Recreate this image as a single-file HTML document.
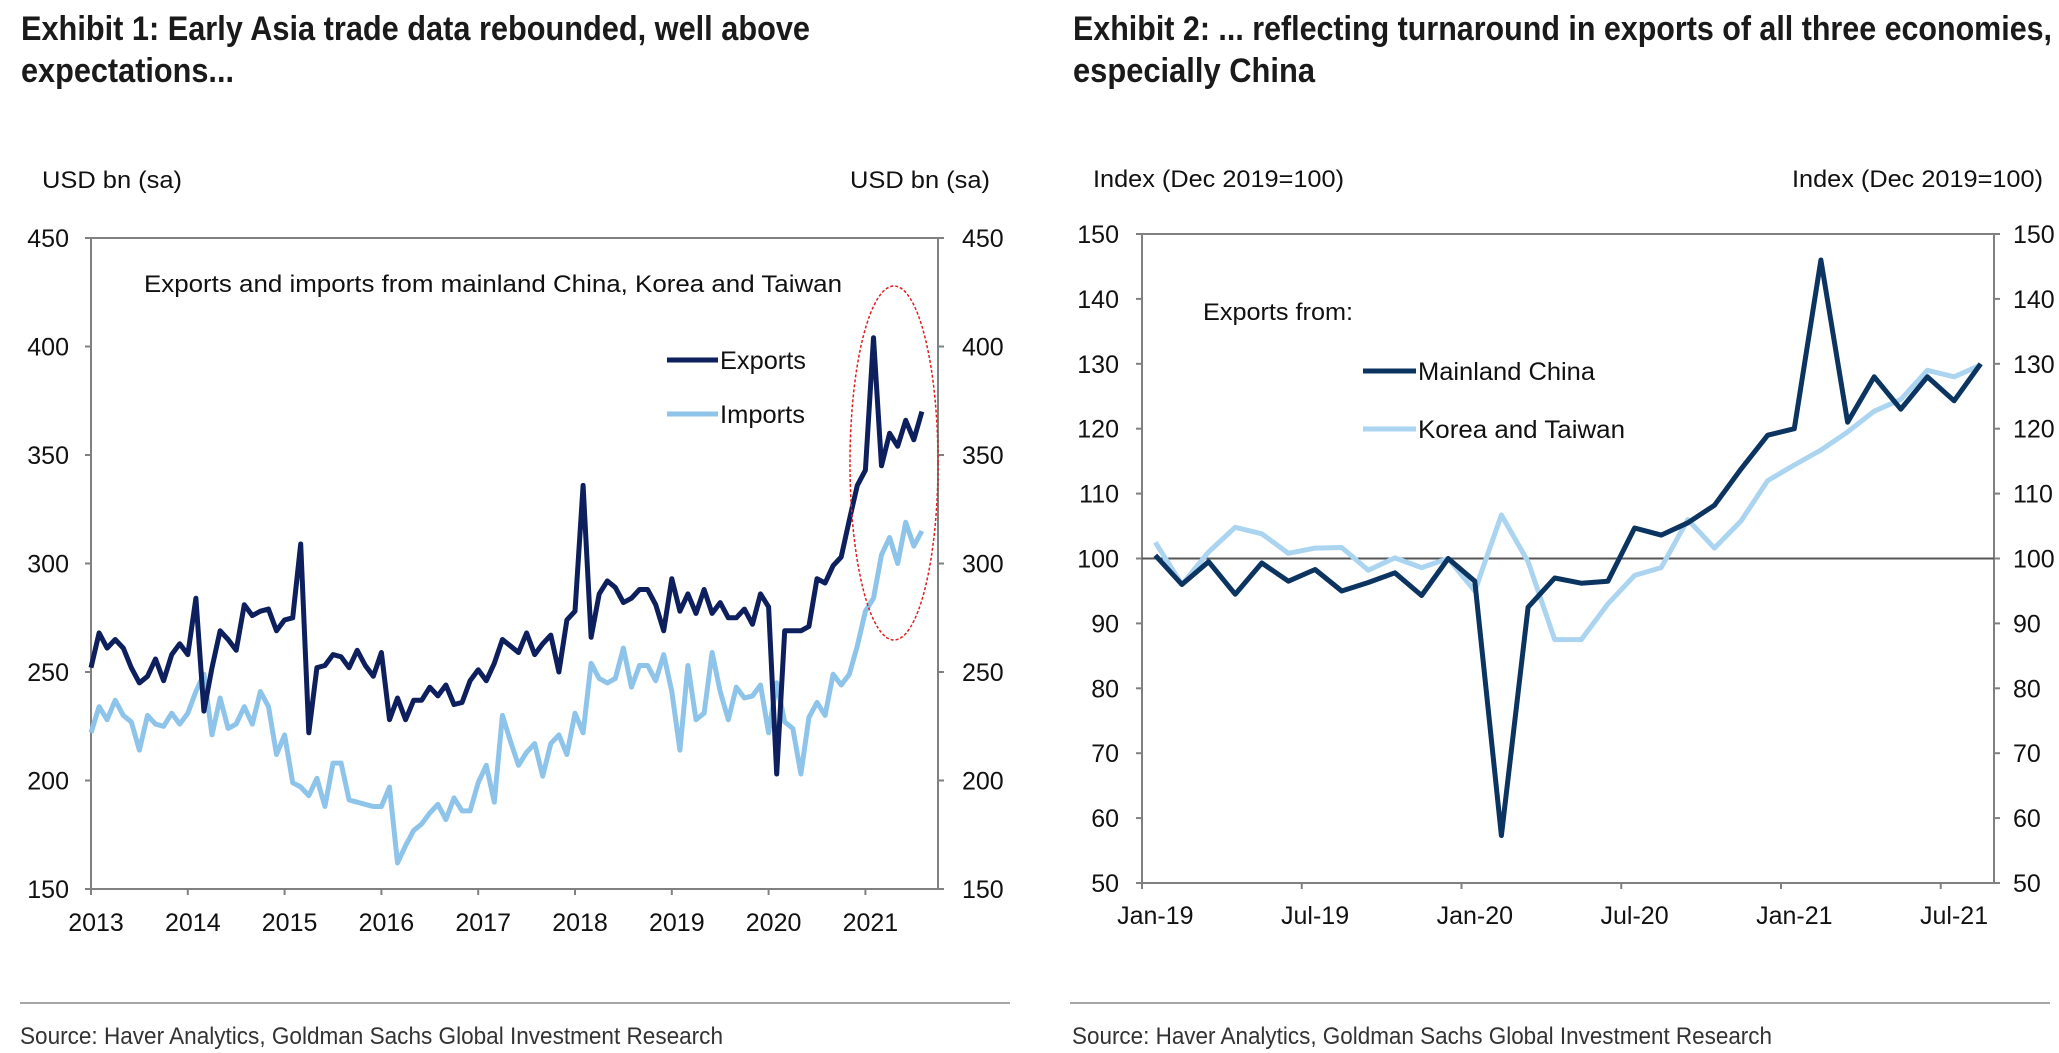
<!DOCTYPE html>
<html><head><meta charset="utf-8"><style>
html,body{margin:0;padding:0;background:#fff;}
svg{display:block;font-family:"Liberation Sans",Arial,sans-serif;}
</style></head><body>
<svg id="root" width="2059" height="1053" viewBox="0 0 2059 1053">
<g font-weight="bold" font-size="34" fill="#1a1a1a">
<text x="21" y="40" textLength="789" lengthAdjust="spacingAndGlyphs">Exhibit 1: Early Asia trade data rebounded, well above</text>
<text x="21" y="82" textLength="213" lengthAdjust="spacingAndGlyphs">expectations...</text>
<text x="1073" y="40" textLength="979" lengthAdjust="spacingAndGlyphs">Exhibit 2: ... reflecting turnaround in exports of all three economies,</text>
<text x="1073" y="82" textLength="242" lengthAdjust="spacingAndGlyphs">especially China</text>
</g>
<g>
<line x1="20" y1="1003" x2="1010" y2="1003" stroke="#a6a6a6" stroke-width="2"/>
<line x1="1070" y1="1003" x2="2050" y2="1003" stroke="#a6a6a6" stroke-width="2"/>
<text x="20" y="1044" font-size="24" fill="#333" textLength="703" lengthAdjust="spacingAndGlyphs">Source: Haver Analytics, Goldman Sachs Global Investment Research</text>
<text x="1072" y="1044" font-size="24" fill="#333" textLength="700" lengthAdjust="spacingAndGlyphs">Source: Haver Analytics, Goldman Sachs Global Investment Research</text>
</g>
<g id="c1"></g>
<g id="c2"></g>
</svg>
<script>
// ---- Exhibit 1 data (monthly, Jan 2013 - Aug 2021) ----
const years1 = ["2013","2014","2015","2016","2017","2018","2019","2020","2021"];
const yTicks1 = [150,200,250,300,350,400,450];
const exports1 = [252,268,261,265,261,252,245,248,256,246,258,263,
258,284,232,252,269,265,260,281,276,278,279,269,
274,275,309,222,252,253,258,257,252,260,253,248,
259,228,238,228,237,237,243,239,244,235,236,246,
251,246,254,265,262,259,268,258,263,267,250,274,
278,336,266,286,292,289,282,284,288,288,281,269,
293,278,286,277,288,277,282,275,275,279,272,286,
280,203,269,269,269,271,293,291,299,303,320,336,
343,404,345,360,354,366,357,370];
const imports1 = [222,234,228,237,230,227,214,230,226,225,231,226,
231,241,249,221,238,224,226,234,226,241,234,212,
221,199,197,193,201,188,208,208,191,190,189,188,
188,197,162,170,177,180,185,189,182,192,186,186,
199,207,190,230,218,207,213,217,202,217,221,212,
231,222,254,247,245,247,261,243,253,253,246,258,
241,214,253,228,231,259,241,228,243,238,239,244,
222,245,227,224,203,229,236,230,249,244,249,262,
278,284,304,312,300,319,308,315];
// ---- Exhibit 2 data (monthly, Jan-19 - Aug-21) ----
const xLabels2 = ["Jan-19","Jul-19","Jan-20","Jul-20","Jan-21","Jul-21"];
const yTicks2 = [50,60,70,80,90,100,110,120,130,140,150];
const china2 = [100.5,96,99.5,94.5,99.3,96.5,98.3,95,96.3,97.8,94.3,100,96.5,57.3,92.5,97,96.2,96.5,104.7,103.6,105.5,108.2,113.8,119,120,146,121,128,123,128,124.3,130];
const korea2 = [102.5,96,101,104.8,103.8,100.8,101.6,101.7,98.2,100.1,98.6,100,95,106.7,99.5,87.5,87.5,93,97.4,98.6,106,101.6,105.8,112,114.4,116.7,119.5,122.7,124.5,129,128,129.8];

const NS="http://www.w3.org/2000/svg";
function mk(parent,tag,attrs,txt){const e=document.createElementNS(NS,tag);for(const k in attrs)e.setAttribute(k,attrs[k]);if(txt!==undefined)e.textContent=txt;parent.appendChild(e);return e;}

// ===== Chart 1 =====
(function(){
const g=document.getElementById('c1');
const L=91,R=938,T=238,B=889,nM=105;
const x=m=>L+m/nM*(R-L);
const y=v=>B-(v-150)/300*(B-T);
let e;
e=mk(g,'rect',{x:L,y:T,width:R-L,height:B-T,fill:'none',stroke:'#808080','stroke-width':2});


yTicks1.forEach(v=>{
 e=mk(g,'line',{x1:L-6,x2:L,y1:y(v),y2:y(v),stroke:'#808080','stroke-width':2});
 
 
 e=mk(g,'line',{x1:R,x2:R+6,y1:y(v),y2:y(v),stroke:'#808080','stroke-width':2});
 
 
 e=mk(g,'text',{x:69,y:y(v)+9,'font-size':25,'text-anchor':'end',fill:'#111'},String(v));
 
 
 e=mk(g,'text',{x:962,y:y(v)+9,'font-size':25,fill:'#111'},String(v));
 
 
});
years1.forEach((yr,i)=>{
 const xx=x(i*12);
 e=mk(g,'line',{x1:xx,x2:xx,y1:B,y2:B+6,stroke:'#808080','stroke-width':2});
 
 
 e=mk(g,'text',{x:xx+5,y:931,'font-size':25,'text-anchor':'middle',fill:'#111'},yr);
 
 
});
e=mk(g,'text',{x:42,y:188,'font-size':24,fill:'#111',textLength:140,lengthAdjust:'spacingAndGlyphs'},'USD bn (sa)');


e=mk(g,'text',{x:850,y:188,'font-size':24,fill:'#111',textLength:140,lengthAdjust:'spacingAndGlyphs'},'USD bn (sa)');


e=mk(g,'text',{x:144,y:292,'font-size':24,fill:'#111',textLength:698,lengthAdjust:'spacingAndGlyphs'},'Exports and imports from mainland  China, Korea and Taiwan');


const pts=a=>a.map((v,i)=>x(i).toFixed(1)+','+y(v).toFixed(1)).join(' ');
e=mk(g,'polyline',{points:pts(imports1),fill:'none',stroke:'#8ec4ea','stroke-width':5,'stroke-linejoin':'round'});


e=mk(g,'polyline',{points:pts(exports1),fill:'none',stroke:'#0d1f5c','stroke-width':5,'stroke-linejoin':'round'});


e=mk(g,'ellipse',{cx:894,cy:463,rx:44,ry:177,fill:'none',stroke:'#e02020','stroke-width':1.5,'stroke-dasharray':'3,2'});


e=mk(g,'line',{x1:667,x2:718,y1:360,y2:360,stroke:'#0d1f5c','stroke-width':5});


e=mk(g,'text',{x:720,y:369,'font-size':25,fill:'#111',textLength:86,lengthAdjust:'spacingAndGlyphs'},'Exports');


e=mk(g,'line',{x1:667,x2:718,y1:414,y2:414,stroke:'#8ec4ea','stroke-width':5});


e=mk(g,'text',{x:720,y:423,'font-size':25,fill:'#111',textLength:85,lengthAdjust:'spacingAndGlyphs'},'Imports');


})();

// ===== Chart 2 =====
(function(){
const g=document.getElementById('c2');
const L=1142,R=1994,T=234,B=883,nM=32;
const x=m=>L+m/nM*(R-L);
const y=v=>B-(v-50)/100*(B-T);
let e;
e=mk(g,'line',{x1:L,x2:R,y1:T,y2:T,stroke:'#808080','stroke-width':2});


e=mk(g,'line',{x1:L,x2:R,y1:B,y2:B,stroke:'#808080','stroke-width':2});


e=mk(g,'line',{x1:L,x2:L,y1:T,y2:B,stroke:'#808080','stroke-width':2});


e=mk(g,'line',{x1:R,x2:R,y1:T,y2:B,stroke:'#808080','stroke-width':2});


e=mk(g,'line',{x1:L,x2:R,y1:y(100),y2:y(100),stroke:'#555','stroke-width':2});


yTicks2.forEach(v=>{
 e=mk(g,'line',{x1:L-6,x2:L,y1:y(v),y2:y(v),stroke:'#808080','stroke-width':2});
 
 
 e=mk(g,'line',{x1:R,x2:R+6,y1:y(v),y2:y(v),stroke:'#808080','stroke-width':2});
 
 
 e=mk(g,'text',{x:1119,y:y(v)+9,'font-size':25,'text-anchor':'end',fill:'#111'},String(v));
 
 
 e=mk(g,'text',{x:2013,y:y(v)+9,'font-size':25,fill:'#111'},String(v));
 
 
});
xLabels2.forEach((lab,i)=>{
 const xx=x(i*6);
 e=mk(g,'line',{x1:xx,x2:xx,y1:B,y2:B+6,stroke:'#808080','stroke-width':2});
 
 
 e=mk(g,'text',{x:x(i*6+0.5),y:924,'font-size':25,'text-anchor':'middle',fill:'#111'},lab);
 
 
});
e=mk(g,'text',{x:1093,y:187,'font-size':24,fill:'#111',textLength:251,lengthAdjust:'spacingAndGlyphs'},'Index (Dec 2019=100)');


e=mk(g,'text',{x:1792,y:187,'font-size':24,fill:'#111',textLength:251,lengthAdjust:'spacingAndGlyphs'},'Index (Dec 2019=100)');


const pts=a=>a.map((v,i)=>x(i+0.5).toFixed(1)+','+y(v).toFixed(1)).join(' ');
e=mk(g,'polyline',{points:pts(korea2),fill:'none',stroke:'#aad4f0','stroke-width':5,'stroke-linejoin':'round'});


e=mk(g,'polyline',{points:pts(china2),fill:'none',stroke:'#0b3560','stroke-width':5,'stroke-linejoin':'round'});


e=mk(g,'text',{x:1203,y:320,'font-size':24,fill:'#111',textLength:150,lengthAdjust:'spacingAndGlyphs'},'Exports from:');


e=mk(g,'line',{x1:1363,x2:1416,y1:371,y2:371,stroke:'#0b3560','stroke-width':5});


e=mk(g,'text',{x:1418,y:380,'font-size':25,fill:'#111',textLength:177,lengthAdjust:'spacingAndGlyphs'},'Mainland China');


e=mk(g,'line',{x1:1363,x2:1416,y1:429,y2:429,stroke:'#aad4f0','stroke-width':5});


e=mk(g,'text',{x:1418,y:438,'font-size':25,fill:'#111',textLength:207,lengthAdjust:'spacingAndGlyphs'},'Korea and Taiwan');


})();
</script>
</body></html>
